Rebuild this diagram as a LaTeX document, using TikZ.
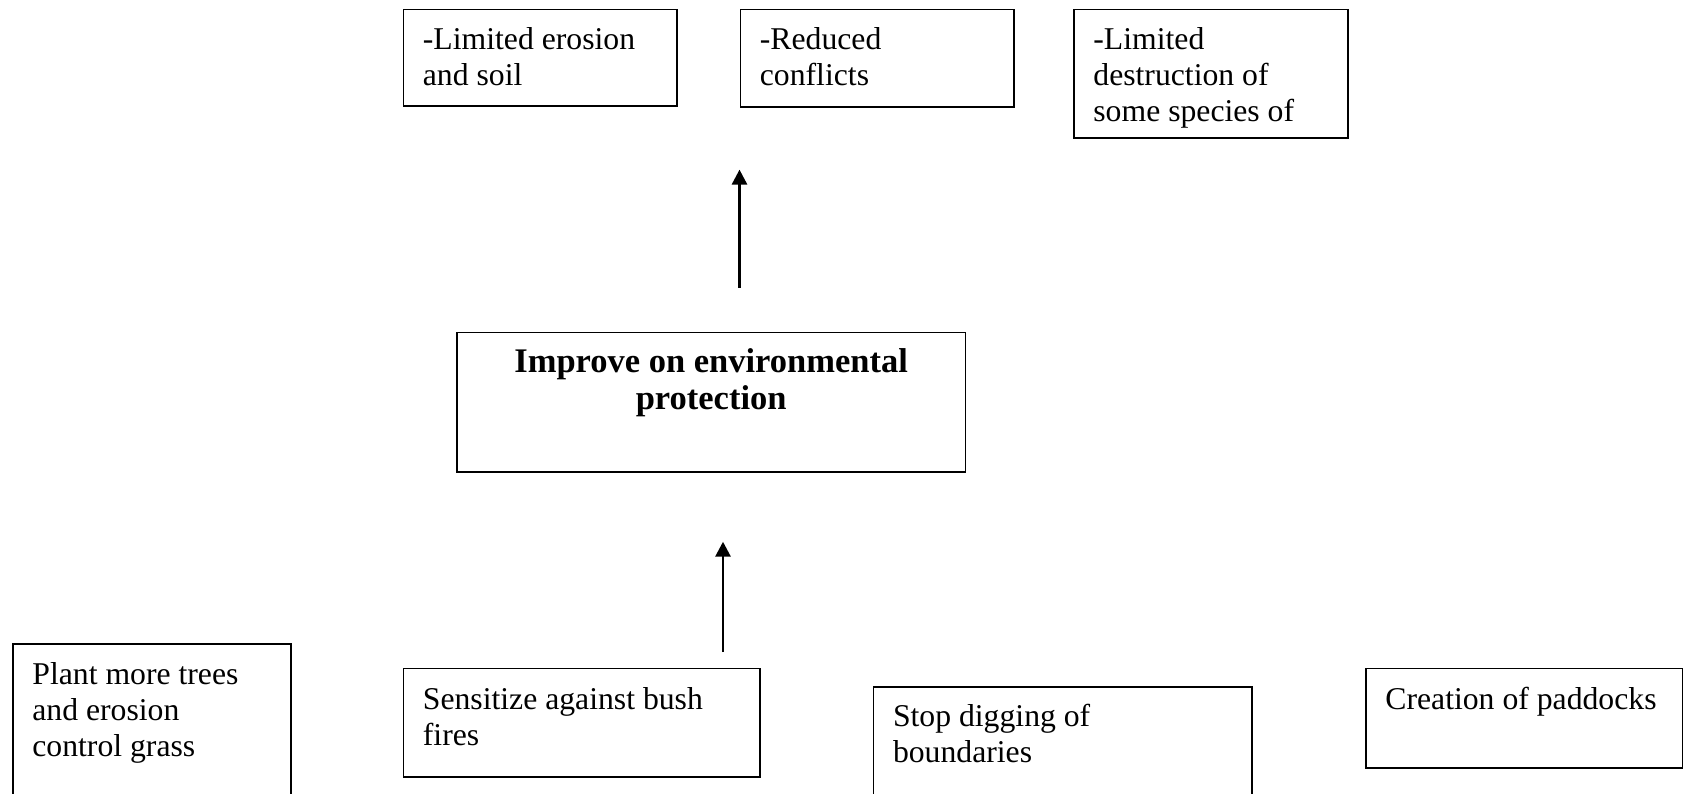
\documentclass[tikz,border=0pt]{standalone}
\usepackage{fontspec}
\setmainfont{Liberation Serif}
\usetikzlibrary{arrows.meta}

% #1 width, #2 height, #3 first-baseline offset, #4 text
\newcommand{\leftbox}[4]{%
  \begin{minipage}[c][#2][t]{#1}%
    \fontsize{31.7}{36}\selectfont
    \raggedright\leftskip=19.5pt\parindent=0pt
    \rule{0pt}{#3}#4%
  \end{minipage}}
\newcommand{\midbox}[4]{%
  \begin{minipage}[c][#2][t]{#1}%
    \fontsize{34.5}{36.8}\selectfont\bfseries
    \centering\parindent=0pt
    \rule{0pt}{#3}#4%
  \end{minipage}}

\tikzset{
  textbox/.style={draw=black, line width=1.8pt, inner sep=0pt, anchor=north west},
  upArrow/.style={line width=2.8pt, -{Triangle[length=15pt,width=15pt]}}
}

\begin{document}
\begin{tikzpicture}[x=1pt, y=-1pt]
  \useasboundingbox (0,0) rectangle (1683,793);

  % outcomes
  \node[textbox] (b1) at (402.5,8.6)  {\leftbox{273.5pt}{96.4pt}{39.5pt}{-Limited erosion\\and soil}};
  \node[textbox] (b2) at (739.5,8.6)  {\leftbox{273.5pt}{97.4pt}{39.5pt}{-Reduced\\conflicts}};
  \node[textbox] (b3) at (1073,8.6)   {\leftbox{274pt}{128.4pt}{39.5pt}{-Limited\\destruction of\\some species of}};

  % central goal
  \node[textbox] (ctr) at (456,331.6) {\midbox{508.5pt}{139.4pt}{40pt}{Improve on environmental\\protection}};

  % activities
  \node[textbox] (plant) at (12,643)     {\leftbox{278pt}{170pt}{40.5pt}{Plant more trees\\and erosion\\control grass}};
  \node[textbox] (sens)  at (402.5,667.6){\leftbox{356.5pt}{108.4pt}{40.5pt}{Sensitize against bush\\fires}};
  \node[textbox] (stop)  at (872.6,686)  {\leftbox{378.4pt}{130pt}{40pt}{Stop digging of\\boundaries}};
  \node[textbox] (creat) at (1365,667.6) {\leftbox{317pt}{99.4pt}{40.5pt}{Creation of paddocks}};

  % arrows
  \coordinate (a1s) at (739.5,287.6);
  \coordinate (a1e) at (739.5,169.6);
  \coordinate (a2s) at (723,652);
  \coordinate (a2e) at (723,541.7);
  \draw[upArrow] (a1s) -- (a1e);
  \draw[upArrow] (a2s) -- (a2e);
\end{tikzpicture}
\end{document}
